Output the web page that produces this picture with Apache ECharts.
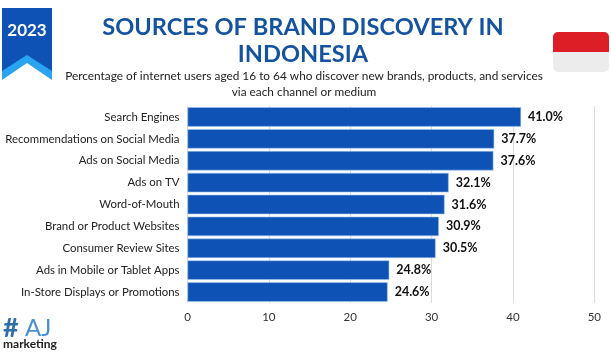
<!DOCTYPE html>
<html><head><meta charset="utf-8">
<style>html,body{margin:0;padding:0;background:#fff}#c{width:611px;height:364px}</style>
<script src="https://cdn.jsdelivr.net/npm/echarts@6/dist/echarts.min.js"></script>
</head><body><div id="c"></div>
<script>
const categories = ["Search Engines","Recommendations on Social Media","Ads on Social Media","Ads on TV","Word-of-Mouth","Brand or Product Websites","Consumer Review Sites","Ads in Mobile or Tablet Apps","In-Store Displays or Promotions"];
const values = [41.0,37.7,37.6,32.1,31.6,30.9,30.5,24.8,24.6];
const axisTicks = {min:0,max:50,interval:10};
const F = 'Lato, "Open Sans", sans-serif';
const chart = echarts.init(document.getElementById('c'),null,{renderer:'canvas'});
chart.setOption({
  animation:false,
  backgroundColor:'#fff',
  grid:{left:187.5,top:106,width:406.8,height:197,containLabel:false},
  xAxis:{type:'value',min:axisTicks.min,max:axisTicks.max,interval:axisTicks.interval,
    axisLine:{show:false},axisTick:{show:false},
    splitLine:{show:true,lineStyle:{color:'#dcdcdc',width:1}},
    axisLabel:{color:'#333',fontFamily:F,fontSize:11.5,margin:8}},
  yAxis:{type:'category',inverse:true,data:categories,
    axisLine:{show:false},axisTick:{show:false},
    axisLabel:{color:'#222',fontFamily:F,fontSize:11.4,margin:8}},
  series:[{type:'bar',data:values,barWidth:19.5,
    itemStyle:{color:'#0f52b5',borderColor:'#9cc8ef',borderWidth:0.6},
    label:{show:true,position:'right',distance:7,color:'#111',fontFamily:F,fontWeight:'bold',fontSize:12.5,
      formatter:p=>p.value.toFixed(1)+'%'}}],
  graphic:[
    {type:'polygon',shape:{points:[[2,8],[52,8],[52,80],[27,63],[2,80]]},style:{fill:'#2aa3f2'}},
    {type:'polygon',shape:{points:[[2,8],[52,8],[52,71],[27,55],[2,71]]},style:{fill:'#0f52b5'}},
    {type:'text',x:27,y:31,style:{text:'2023',fill:'#fff',font:'bold 17px '+F,textAlign:'center',textVerticalAlign:'middle'}},
    {type:'text',x:303,y:27,style:{text:'SOURCES OF BRAND DISCOVERY IN',fill:'#14539f',font:'bold 23.6px '+F,textAlign:'center',textVerticalAlign:'middle'}},
    {type:'text',x:303,y:54,style:{text:'INDONESIA',fill:'#14539f',font:'bold 23.6px '+F,textAlign:'center',textVerticalAlign:'middle'}},
    {type:'text',x:304,y:76,style:{text:'Percentage of internet users aged 16 to 64 who discover new brands, products, and services',fill:'#222',font:'11.85px '+F,textAlign:'center',textVerticalAlign:'middle'}},
    {type:'text',x:304,y:92,style:{text:'via each channel or medium',fill:'#222',font:'11.85px '+F,textAlign:'center',textVerticalAlign:'middle'}},
    {type:'rect',shape:{x:553,y:32,width:56,height:40,r:5},style:{fill:'#ececec'}},
    {type:'rect',shape:{x:553,y:32,width:56,height:20,r:[5,5,0,0]},style:{fill:'#dc1f26'}},
    {type:'text',x:3,y:328,style:{text:'#',fill:'#2f6fa8',font:'bold 27px '+F,textAlign:'left',textVerticalAlign:'middle'}},
    {type:'text',x:25,y:328,style:{text:'AJ',fill:'#4a90cf',font:'24px '+F,textAlign:'left',textVerticalAlign:'middle'}},
    {type:'text',x:3,y:344,style:{text:'marketing',fill:'#222',font:'bold 12px '+F,textAlign:'left',textVerticalAlign:'middle'}}
  ]
});
</script></body></html>
